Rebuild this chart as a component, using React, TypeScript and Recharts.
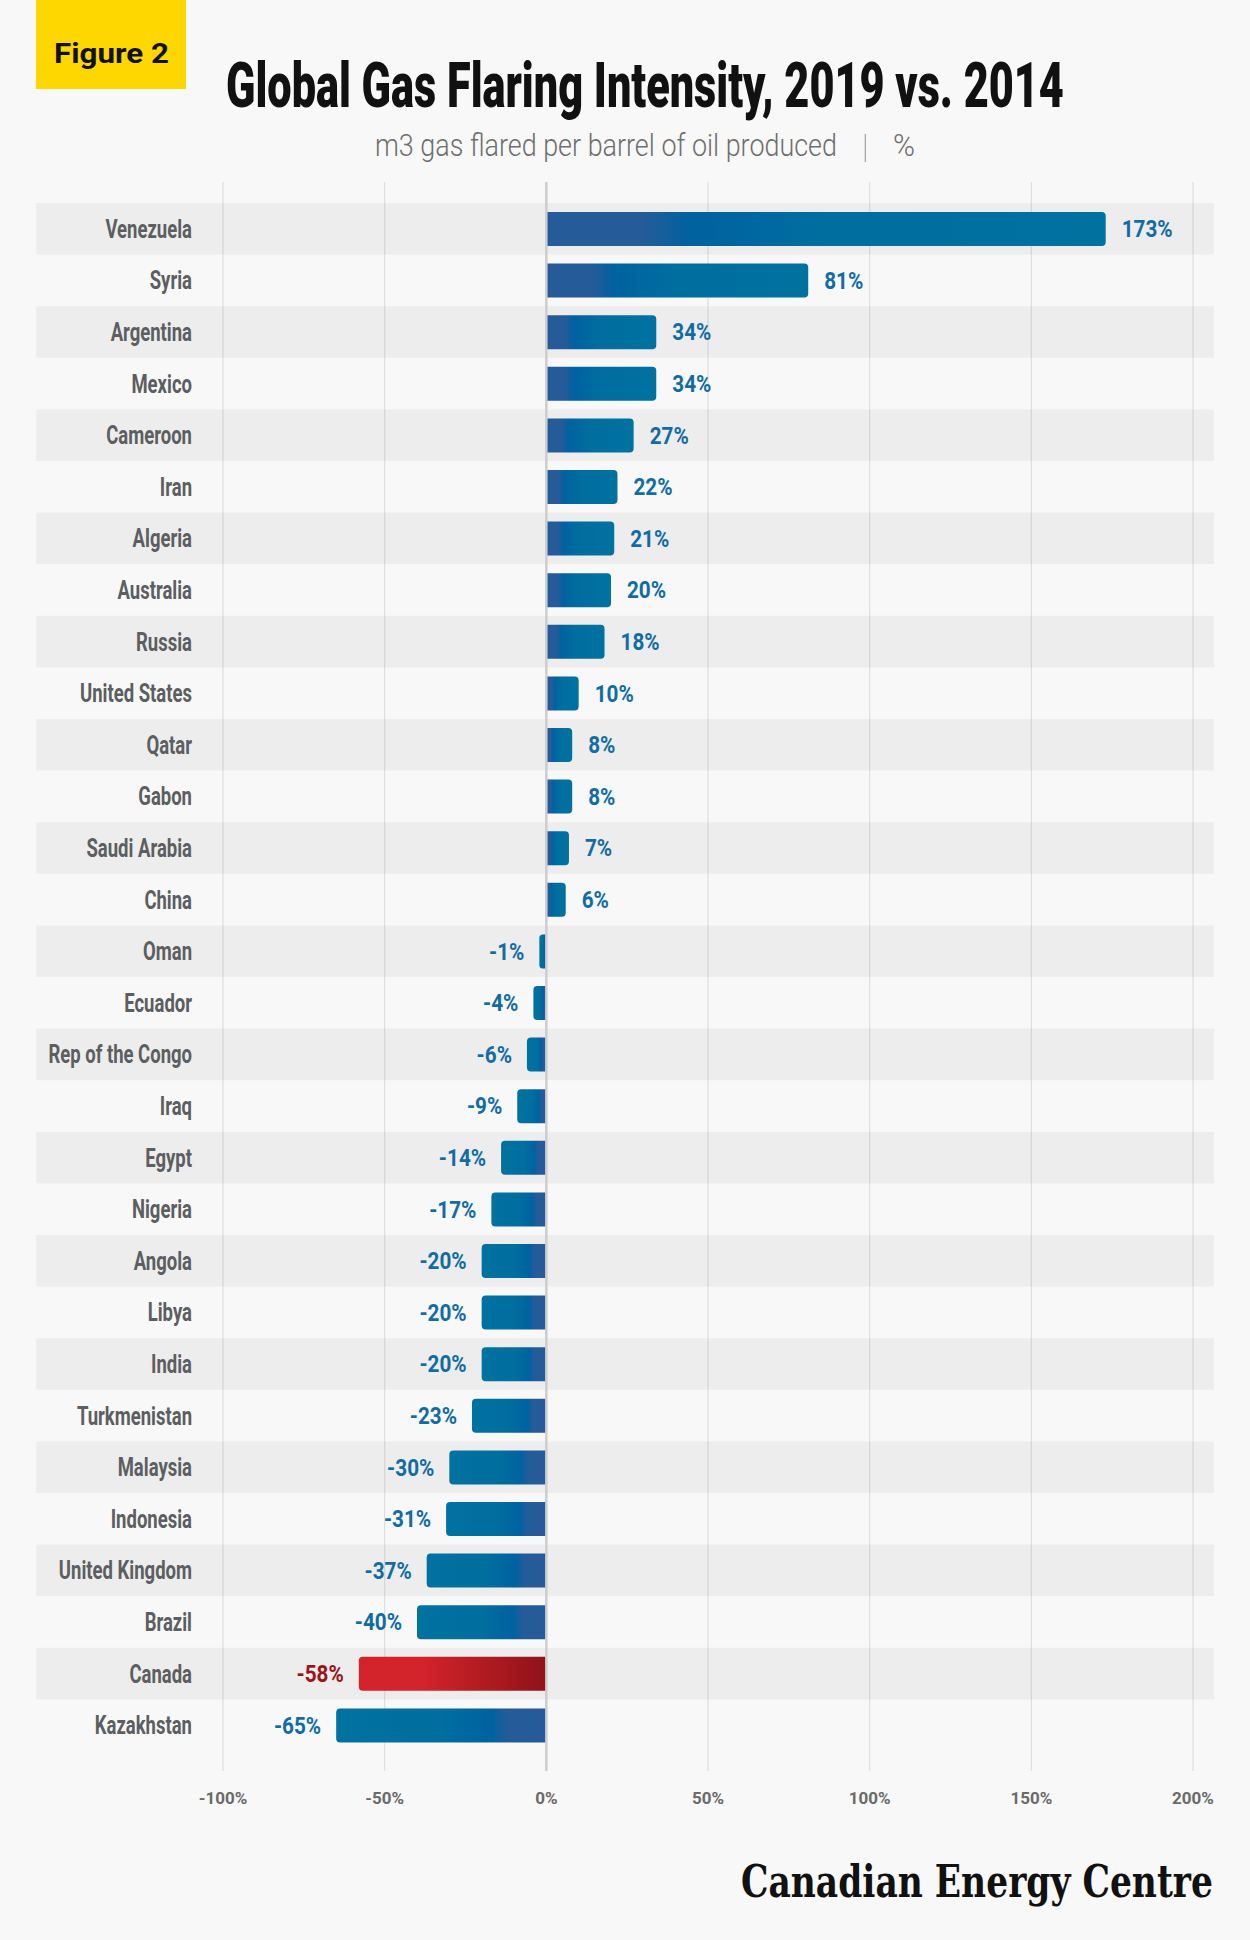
import React, { useLayoutEffect, useRef, useState } from 'react';
import { BarChart, Bar, XAxis, YAxis, CartesianGrid, ReferenceArea, ReferenceLine } from 'recharts';

const countries = [
  'Venezuela', 'Syria', 'Argentina', 'Mexico', 'Cameroon', 'Iran', 'Algeria', 'Australia', 'Russia',
  'United States', 'Qatar', 'Gabon', 'Saudi Arabia', 'China', 'Oman', 'Ecuador', 'Rep of the Congo',
  'Iraq', 'Egypt', 'Nigeria', 'Angola', 'Libya', 'India', 'Turkmenistan', 'Malaysia', 'Indonesia',
  'United Kingdom', 'Brazil', 'Canada', 'Kazakhstan',
];
const changes = [
  173, 81, 34, 34, 27, 22, 21, 20, 18,
  10, 8, 8, 7, 6, -1, -4, -6,
  -9, -14, -17, -20, -20, -20, -23, -30, -31,
  -37, -40, -58, -65,
];
const xTicks = [-100, -50, 0, 50, 100, 150, 200];
const HIGHLIGHT = 'Canada';

const data = countries.map((country, i) => ({ country, value: changes[i] }));

const FONT = "Roboto, 'Liberation Sans', 'DejaVu Sans', sans-serif";
const BAND_FROM = -157.8;
const BAND_TO = 206.5;

// Text squeezed horizontally (via a transform) to a target width.
const FitText = (props: any) => {
  const { x, y, width, children, ...rest } = props;
  const ref = useRef<SVGTextElement>(null);
  const [s, setS] = useState(1);
  useLayoutEffect(() => {
    const measure = () => {
      const el = ref.current;
      if (!el) return;
      const n = el.getComputedTextLength();
      if (n > 0) setS(width / n);
    };
    measure();
    const fonts = (document as any).fonts;
    if (fonts && fonts.ready) fonts.ready.then(measure);
  }, [width]);
  return (
    <g transform={`translate(${x},${y}) scale(${s},1)`}>
      <text ref={ref} x={0} y={0} {...rest}>
        {children}
      </text>
    </g>
  );
};

const YTick = (props: any) => {
  const { x, y, payload } = props;
  return (
    <g transform={`translate(${x},${y})`}>
      <text
        transform="scale(0.74,1)"
        textAnchor="end"
        dy="0.36em"
        fontFamily={FONT}
        fontWeight={700}
        fontSize={25}
        fill="#5c5e61"
      >
        {payload.value}
      </text>
    </g>
  );
};

const XTick = (props: any) => {
  const { x, y, payload } = props;
  return (
    <text
      x={x}
      y={y}
      dy="0.71em"
      textAnchor="middle"
      fontFamily={FONT}
      fontWeight={700}
      fontSize={17}
      fill="#6a6a6a"
    >
      {`${payload.value}%`}
    </text>
  );
};

const BarShape = (props: any) => {
  const { x, y, width, height, payload } = props;
  const left = Math.min(x, x + width);
  const w = Math.abs(width);
  const neg = payload.value < 0;
  const hl = payload.country === HIGHLIGHT;
  const r = Math.min(4, w / 2);
  const b = y + height;
  const d = !neg
    ? `M${left},${y} H${left + w - r} Q${left + w},${y} ${left + w},${y + r} V${b - r} Q${left + w},${b} ${left + w - r},${b} H${left} Z`
    : `M${left + w},${y} H${left + r} Q${left},${y} ${left},${y + r} V${b - r} Q${left},${b} ${left + r},${b} H${left + w} Z`;
  const fill = hl ? 'url(#gRedNeg)' : neg ? 'url(#gBlueNeg)' : 'url(#gBluePos)';
  const lx = neg ? left - 15 : left + w + 16;
  return (
    <g>
      <path d={d} fill={fill} />
      <g transform={`translate(${lx},${y + height / 2})`}>
        <text
          transform="scale(0.9,1)"
          textAnchor={neg ? 'end' : 'start'}
          dy="0.36em"
          fontFamily={FONT}
          fontWeight={700}
          fontSize={23}
          fill={hl ? '#9b141a' : '#116ca5'}
        >
          {`${payload.value}%`}
        </text>
      </g>
    </g>
  );
};

export default function App() {
  return (
    <div
      style={{
        position: 'absolute',
        left: 0,
        top: 0,
        width: 1250,
        height: 1940,
        background: '#f8f8f8',
        overflow: 'hidden',
      }}
    >
      <svg width={1250} height={1940} style={{ position: 'absolute', left: 0, top: 0 }}>
        <rect x={36} y={0} width={150} height={89} fill="#ffd700" />
        <FitText x={54} y={63} width={115} fontFamily={FONT} fontWeight={700} fontSize={28} fill="#111">
          Figure 2
        </FitText>
        <FitText x={226} y={107} width={838} fontFamily={FONT} fontWeight={900} fontSize={63} fill="#111">
          Global Gas Flaring Intensity, 2019 vs. 2014
        </FitText>
        <FitText x={375} y={156} width={462} fontFamily={FONT} fontWeight={300} fontSize={31} fill="#6e6e6e">
          m3 gas flared per barrel of oil produced
        </FitText>
        <text x={865} y={158} textAnchor="middle" fontFamily={FONT} fontWeight={100} fontSize={34} fill="#8a8a8a">
          |
        </text>
        <FitText x={893} y={156} width={22} fontFamily={FONT} fontWeight={300} fontSize={31} fill="#6e6e6e">
          %
        </FitText>
        <FitText x={741} y={1897} width={472} fontFamily="'DejaVu Serif', 'Liberation Serif', serif" fontWeight={700} fontSize={45} fill="#111">
          Canadian Energy Centre
        </FitText>
      </svg>
      <div style={{ position: 'absolute', left: 0, top: 0 }}>
        <BarChart
          width={1250}
          height={1940}
          data={data}
          layout="vertical"
          margin={{ top: 182, right: 57, bottom: 129, left: 36 }}
          barCategoryGap={0}
        >
          <defs>
            <linearGradient id="gBluePos" x1="0" y1="0" x2="1" y2="0">
              <stop offset="0" stopColor="#255b98" />
              <stop offset="0.17" stopColor="#255b98" />
              <stop offset="0.26" stopColor="#0062a0" />
              <stop offset="0.5" stopColor="#006e9f" />
              <stop offset="1" stopColor="#0072a0" />
            </linearGradient>
            <linearGradient id="gBlueNeg" x1="0" y1="0" x2="1" y2="0">
              <stop offset="0" stopColor="#0072a0" />
              <stop offset="0.5" stopColor="#006e9f" />
              <stop offset="0.74" stopColor="#0062a0" />
              <stop offset="0.82" stopColor="#255b98" />
              <stop offset="1" stopColor="#255b98" />
            </linearGradient>
            <linearGradient id="gRedNeg" x1="0" y1="0" x2="1" y2="0">
              <stop offset="0" stopColor="#d3232b" />
              <stop offset="0.34" stopColor="#d3232b" />
              <stop offset="1" stopColor="#8f1218" />
            </linearGradient>
          </defs>
          {countries
            .filter((_, i) => i % 2 === 0)
            .map((c) => (
              <ReferenceArea
                key={c}
                y1={c}
                y2={c}
                x1={BAND_FROM}
                x2={BAND_TO}
                ifOverflow="visible"
                fill="#000"
                fillOpacity={0.045}
                stroke="none"
              />
            ))}
          <CartesianGrid horizontal={false} stroke="#dedede" strokeWidth={1.2} />
          <XAxis
            type="number"
            domain={[-100, 200]}
            ticks={xTicks}
            interval={0}
            axisLine={false}
            tickLine={false}
            tickSize={0}
            tickMargin={21}
            height={40}
            tick={<XTick />}
          />
          <YAxis
            type="category"
            dataKey="country"
            width={187}
            interval={0}
            axisLine={false}
            tickLine={false}
            tickSize={0}
            tickMargin={31}
            padding={{ top: 21, bottom: 20 }}
            tick={<YTick />}
          />
          <ReferenceLine x={0} stroke="#cdcdcd" strokeWidth={2.5} />
          <Bar
            dataKey="value"
            barSize={34}
            minPointSize={7}
            shape={BarShape}
            isAnimationActive={false}
          />
        </BarChart>
      </div>
    </div>
  );
}
